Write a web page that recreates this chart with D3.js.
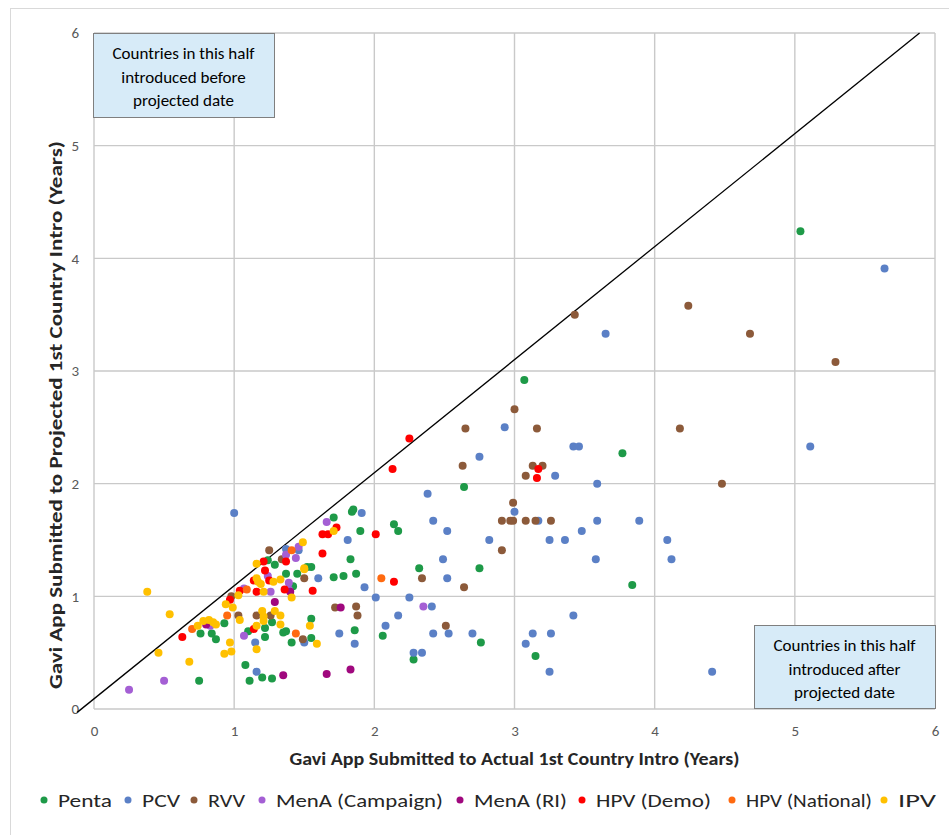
<!DOCTYPE html>
<html>
<head>
<meta charset="utf-8">
<script src="https://cdn.jsdelivr.net/npm/d3@7"></script>
<style>
  body { margin: 0; background: #fff; }
  svg { display: block; }
  text { font-family: Carlito, Calibri, Lato, "Open Sans", sans-serif; }
</style>
</head>
<body>
<svg id="chart" width="949" height="835"></svg>
<script>
// ---- data: [actual years, projected years] per vaccine introduction ----
const seriesNames = ["Penta", "PCV", "RVV", "MenA (Campaign)", "MenA (RI)", "HPV (Demo)", "HPV (National)", "IPV"];
const seriesColors = ["#1E9A48", "#5B80C6", "#8C5A3A", "#A45FD4", "#A0087E", "#FF0000", "#FF6A10", "#FFC000"];

const penta = [[5.04,4.24],[3.07,2.92],[3.77,2.27],[3.84,1.10],[2.64,1.97],[1.84,1.75],[1.85,1.77],[1.71,1.70],
  [1.90,1.58],[2.14,1.64],[2.17,1.58],[1.83,1.33],[2.75,1.25],[2.32,1.25],[1.52,1.26],[1.55,1.26],[1.71,1.17],
  [1.78,1.18],[1.87,1.20],[1.55,0.80],[1.86,0.70],[1.55,0.63],[2.06,0.65],[2.76,0.59],[2.28,0.44],[3.15,0.47],
  [0.75,0.25],[0.76,0.67],[0.84,0.67],[0.87,0.62],[0.93,0.76],[1.08,0.39],[1.11,0.25],[1.20,0.28],[1.27,0.27],
  [1.10,0.69],[1.22,0.64],[1.22,0.72],[1.27,0.77],[1.35,0.68],[1.37,0.69],[1.41,0.59],[1.29,1.28],[1.24,1.32],
  [1.37,1.20],[1.45,1.20],[1.42,1.09]];
const pcv = [[5.64,3.91],[3.65,3.33],[5.11,2.33],[4.41,0.33],[2.93,2.50],[3.42,2.33],[3.46,2.33],[2.75,2.24],
  [3.29,2.07],[3.59,2.00],[2.38,1.91],[3.00,1.75],[1.91,1.74],[2.42,1.67],[2.52,1.58],[3.17,1.67],[3.59,1.67],
  [1.81,1.50],[2.82,1.50],[3.25,1.50],[3.36,1.50],[3.48,1.58],[2.49,1.33],[3.58,1.33],[1.60,1.16],[2.52,1.16],
  [1.93,1.08],[2.01,0.99],[2.25,0.99],[2.41,0.91],[2.17,0.83],[2.08,0.74],[1.50,0.59],[1.75,0.67],[1.86,0.58],
  [2.42,0.67],[2.53,0.67],[2.70,0.67],[2.28,0.50],[2.34,0.50],[3.13,0.67],[3.08,0.58],[3.26,0.67],[3.42,0.83],
  [3.25,0.33],[3.89,1.67],[4.09,1.50],[4.12,1.33],[1.00,1.74],[1.15,0.59],[1.16,0.33],[1.37,1.42],[1.46,1.41]];
const rvv = [[4.24,3.58],[3.43,3.50],[4.68,3.33],[5.29,3.08],[4.18,2.49],[4.48,2.00],[3.00,2.66],[3.16,2.49],
  [2.65,2.49],[2.63,2.16],[3.13,2.16],[3.20,2.16],[3.08,2.07],[2.99,1.83],[2.91,1.67],[2.97,1.67],[2.99,1.67],
  [3.08,1.67],[3.15,1.67],[3.26,1.67],[2.91,1.41],[1.50,1.16],[2.34,1.16],[2.64,1.08],[1.72,0.90],[1.87,0.91],
  [1.88,0.83],[2.51,0.74],[1.49,0.62],[1.25,1.41],[1.34,1.33],[0.98,1.00],[1.03,0.83],[1.16,0.83],[1.26,0.83]];
const menaCampaign = [[0.25,0.17],[0.50,0.25],[1.07,0.65],[1.66,1.66],[2.35,0.91],[1.46,1.44],[1.44,1.34],
  [1.37,1.37],[1.39,1.12],[1.39,1.06],[1.07,1.07],[1.26,1.04],[1.24,1.18],[0.83,0.74]];
const menaRI = [[1.76,0.90],[1.66,0.31],[1.83,0.35],[1.35,0.30],[1.29,0.95],[0.80,0.75],[1.40,1.04]];
const hpvDemo = [[2.25,2.40],[2.13,2.13],[3.17,2.13],[3.16,2.05],[1.73,1.61],[1.63,1.55],[1.67,1.55],[2.01,1.55],
  [1.63,1.38],[2.14,1.13],[1.56,1.05],[0.63,0.64],[0.97,0.97],[1.14,0.71],[1.37,1.31],[1.21,1.31],[1.22,1.23],
  [1.25,1.14],[1.14,1.14],[1.36,1.06],[1.16,1.04],[1.04,1.05]];
const hpvNational = [[2.05,1.16],[0.70,0.71],[0.95,0.83],[1.44,0.67],[1.41,1.41],[1.09,1.06]];
const ipv = [[0.38,1.04],[0.54,0.84],[0.46,0.50],[0.68,0.42],[0.74,0.74],[0.78,0.78],[0.82,0.79],[0.85,0.77],
  [0.87,0.75],[0.94,0.93],[0.99,0.90],[0.97,0.59],[0.93,0.49],[0.98,0.51],[1.16,0.53],[1.16,0.74],[1.04,0.79],
  [1.20,0.87],[1.21,0.82],[1.21,0.78],[1.33,0.83],[1.33,0.75],[1.29,0.87],[1.41,0.99],[1.71,1.58],[1.50,1.24],
  [1.54,0.74],[1.59,0.58],[1.49,1.48],[1.16,1.29],[1.50,1.25],[1.16,1.16],[1.17,1.13],[1.19,1.11],[1.28,1.13],
  [1.33,1.15],[1.21,1.04],[1.03,1.01]];

const xTickValues = [0, 1, 2, 3, 4, 5, 6];
const yTickValues = [0, 1, 2, 3, 4, 5, 6];
const parityLine = [[-0.12, -0.03], [5.89, 6.0]];
const noteBefore = ["Countries in this half", "introduced before", "projected date"];
const noteAfter = ["Countries in this half", "introduced  after", "projected date"];
const xTitle = "Gavi App Submitted to Actual 1st Country  Intro (Years)";
const yTitle = "Gavi App Submitted to Projected 1st Country  Intro (Years)";

// ---- layout ----
const svg = d3.select("#chart");
const plot = { left: 94, right: 935, top: 33, bottom: 709 };
const x = d3.scaleLinear().domain([0, 6]).range([plot.left, plot.right]);
const y = d3.scaleLinear().domain([0, 6]).range([plot.bottom, plot.top]);
const gridColor = "#C9C9C9";
const tickColor = "#595959";

// outer chart frame
svg.append("rect").attr("x", 10.5).attr("y", 8.5).attr("width", 960).attr("height", 860)
  .attr("fill", "none").attr("stroke", "#D9D9D9").attr("stroke-width", 1);

// gridlines (incl. frame of the plot area)
const grid = svg.append("g");
grid.selectAll("line.v").data(xTickValues).join("line").attr("class", "v")
  .attr("x1", d => x(d)).attr("x2", d => x(d)).attr("y1", y(6)).attr("y2", y(0))
  .attr("stroke", gridColor).attr("stroke-width", 1.4);
grid.selectAll("line.h").data(yTickValues).join("line").attr("class", "h")
  .attr("y1", d => y(d)).attr("y2", d => y(d)).attr("x1", x(0)).attr("x2", x(6))
  .attr("stroke", gridColor).attr("stroke-width", 1.4);

// axes (labels only, lines come from the grid)
const xAxis = svg.append("g").attr("transform", `translate(0,${plot.bottom})`)
  .call(d3.axisBottom(x).tickValues(xTickValues).tickSize(0).tickPadding(16).tickFormat(d3.format("d")));
const yAxis = svg.append("g").attr("transform", `translate(${plot.left},0)`)
  .call(d3.axisLeft(y).tickValues(yTickValues).tickSize(0).tickPadding(15).tickFormat(d3.format("d")));
[xAxis, yAxis].forEach(a => {
  a.select(".domain").remove();
  a.selectAll("text").attr("fill", tickColor).attr("font-size", 15)
    .style("font-family", "Carlito, Calibri, Lato, sans-serif");
});

// axis titles
svg.append("text").attr("x", (plot.left + plot.right) / 2).attr("y", 765)
  .attr("text-anchor", "middle").attr("font-size", 17).attr("font-weight", "bold").attr("fill", "#262626")
  .attr("textLength", 450).attr("lengthAdjust", "spacingAndGlyphs").text(xTitle);
svg.append("text").attr("transform", "translate(62,415) rotate(-90)")
  .attr("text-anchor", "middle").attr("font-size", 17).attr("font-weight", "bold").attr("fill", "#262626")
  .attr("textLength", 548).attr("lengthAdjust", "spacingAndGlyphs").text(yTitle);

// annotation boxes
function note(lines, x0, y0, w, h) {
  const g = svg.append("g");
  g.append("rect").attr("x", x0 + 0.5).attr("y", y0 + 0.5).attr("width", w).attr("height", h)
    .attr("fill", "#D7EBF8").attr("stroke", "#7F7F7F").attr("stroke-width", 1);
  g.selectAll("text").data(lines).join("text")
    .attr("x", x0 + w / 2).attr("y", (d, i) => y0 + 26 + i * 23.5)
    .attr("text-anchor", "middle").attr("font-size", 17).attr("fill", "#000").text(d => d);
}
note(noteBefore, 93, 33, 181, 84);
note(noteAfter, 754, 625, 181, 83);

// diagonal reference line
svg.append("line")
  .attr("x1", x(parityLine[0][0])).attr("y1", y(parityLine[0][1]))
  .attr("x2", x(parityLine[1][0])).attr("y2", y(parityLine[1][1]))
  .attr("stroke", "#000").attr("stroke-width", 1.3);

// points, series drawn in order so later series sit on top
const allSeries = [penta, pcv, rvv, menaCampaign, menaRI, hpvDemo, hpvNational, ipv];
allSeries.forEach((pts, i) => {
  svg.append("g").selectAll("circle").data(pts).join("circle")
    .attr("cx", d => x(d[0])).attr("cy", d => y(d[1])).attr("r", 4)
    .attr("fill", seriesColors[i]);
});

// legend
const legendX = [44, 128, 194, 262, 460, 582, 732, 884];
const legendW = [54, 38, 37, 167, 93, 115, 126, 38];
const legend = svg.append("g").attr("transform", "translate(0,800)");
seriesNames.forEach((name, i) => {
  legend.append("circle").attr("cx", legendX[i]).attr("cy", 0).attr("r", 3.5).attr("fill", seriesColors[i]);
  legend.append("text").attr("x", legendX[i] + 14).attr("y", 6.5).attr("font-size", 19).attr("fill", "#262626")
    .attr("textLength", legendW[i]).attr("lengthAdjust", "spacingAndGlyphs").text(name);
});
</script>
</body>
</html>
